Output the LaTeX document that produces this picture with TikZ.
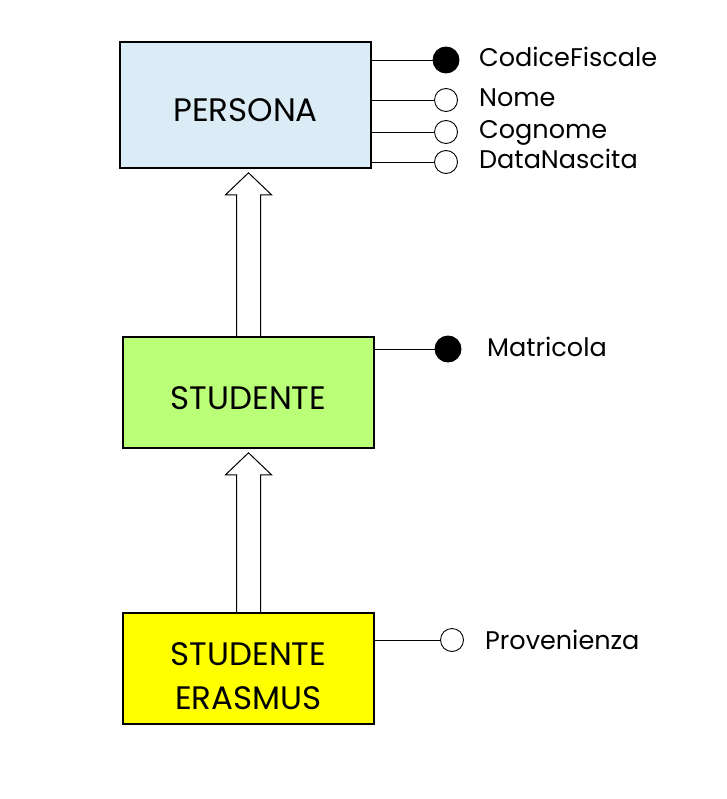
\documentclass[tikz,border=0pt]{standalone}
\usepackage{fontspec}
\setmainfont{Poppins}
\usetikzlibrary{calc}
\usetikzlibrary{backgrounds}

\definecolor{personablue}{RGB}{220,236,246}
\definecolor{studentegreen}{RGB}{187,255,120}
\definecolor{erasmusyellow}{RGB}{255,255,0}

\tikzset{
  entity/.style={draw, line width=1.6pt, minimum width=251pt, align=center,
    inner sep=0pt, text height=34pt, text depth=0pt, font=\fontsize{32.5}{44}\selectfont},
  attrkey/.style={circle, draw, line width=0.9pt, fill=black, minimum size=26pt, inner sep=0pt},
  attrplain/.style={circle, draw, line width=0.9pt, fill=white, minimum size=23pt, inner sep=0pt},
  attrlabel/.style={anchor=base west, inner sep=0pt, font=\fontsize{25.5}{30}\selectfont},
  attrline/.style={line width=0.9pt},
}

% hollow is-a arrow from child (#1) up to parent (#2)
\newcommand\isaarrow[2]{%
  \draw[line width=1pt, fill=white]
    ($(#1.north)+(-12,0)$) -- ($(#1.north |- #2.south)+(-12,26)$)
    -- ++(-11,0) -- ($(#1.north |- #2.south)+(0,4)$)
    -- ($(#1.north |- #2.south)+(23,26)$) -- ++(-11,0)
    -- ($(#1.north)+(12,0)$);
}

\begin{document}
\begin{tikzpicture}[x=1pt, y=-1pt]

  \useasboundingbox (0,0) rectangle (726,799);

  % entities
  \node[entity, fill=personablue, minimum height=126pt] (persona) at (245.5,105) {PERSONA};
  \node[entity, fill=studentegreen, minimum height=111pt] (studente) at (248.5,392.5) {STUDENTE};
  \node[entity, fill=erasmusyellow, minimum height=111pt, text height=81pt]
    (erasmus) at (248.5,668.5) {STUDENTE\\ERASMUS};

  % generalizations
  \begin{scope}[on background layer]
    \isaarrow{studente}{persona}
    \isaarrow{erasmus}{studente}
  \end{scope}

  % attributes of PERSONA
  \foreach \attr/\ypos/\kind in {CodiceFiscale/60/attrkey, Nome/100/attrplain,
      Cognome/132/attrplain, DataNascita/162/attrplain} {
    \node[\kind] (\attr) at (446,\ypos) {};
    \node[attrlabel] (\attr-label) at ($(\attr)+(33,7)$) {\attr};
    \draw[attrline] (persona.east |- \attr) -- (\attr);
  }

  % attribute of STUDENTE
  \node[attrkey] (matricola) at (448,349) {};
  \node[attrlabel] (matricola-label) at ($(matricola)+(39,7)$) {Matricola};
  \draw[attrline] (studente.east |- matricola) -- (matricola);

  % attribute of STUDENTE ERASMUS
  \node[attrplain] (provenienza) at (452,640) {};
  \node[attrlabel] (provenienza-label) at ($(provenienza)+(33,9)$) {Provenienza};
  \draw[attrline] (erasmus.east |- provenienza) -- (provenienza);

\end{tikzpicture}
\end{document}
